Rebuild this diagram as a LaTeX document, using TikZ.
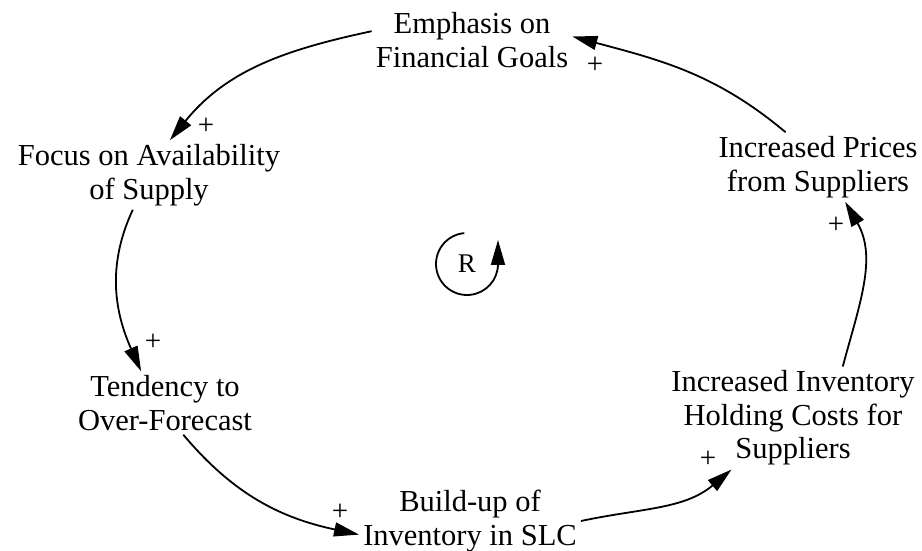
\documentclass[tikz,border=0pt]{standalone}
\usepackage{fontspec}
\setmainfont{Liberation Serif}
\usetikzlibrary{arrows.meta}
\begin{document}
\begin{tikzpicture}[x=1pt,y=1pt,
  var/.style={align=center,inner sep=4pt,font=\fontsize{30.5}{33.5}\selectfont},
  pol/.style={inner sep=0pt,font=\fontsize{29}{29}\selectfont},
  link/.style={line width=1.8pt,-{Triangle[length=25pt,width=14pt]}}]
\useasboundingbox (0,0) rectangle (922,550);

\node[var] (goals) at (472,510) {Emphasis on\\Financial Goals};
\node[var] (supply) at (149,375) {Focus on Availability\\of Supply};
\node[var] (forecast) at (165,147) {Tendency to\\Over-Forecast};
\node[var] (stock) at (470,29) {Build-up of\\Inventory in SLC};
\node[var] (costs) at (793,132) {Increased Inventory\\Holding Costs for\\Suppliers};
\node[var] (prices) at (818,383) {Increased Prices\\from Suppliers};

% loop marker
\node[font=\fontsize{27}{27}\selectfont] (rloop) at (467,286) {R};
\draw[link] (rloop.center) ++(95:31) arc[start angle=95,end angle=360,radius=31] -- ++(0,24);

% causal links
\draw[link] (goals.175) to[out=192,in=51] (supply.59);
\draw[link] (supply.245) to[out=245,in=114] (forecast.127);
\draw[link] (forecast.300) to[out=310,in=168] (stock.187);
\draw[link] (stock.0) to[out=12,in=220] (costs.220);
\draw[link] (costs.46) to[out=75,in=-60] (prices.308);
\draw[link] (prices.133) to[out=140,in=-15] (goals.2);

\node[pol] (p1) at (206,424) {+};
\node[pol] (p2) at (153,208) {+};
\node[pol] (p3) at (340,38) {+};
\node[pol] (p4) at (708,91) {+};
\node[pol] (p5) at (836,325) {+};
\node[pol] (p6) at (595,485) {+};
\end{tikzpicture}
\end{document}
